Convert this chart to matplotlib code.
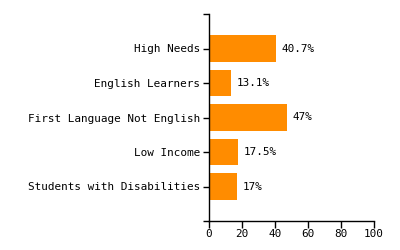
import matplotlib
matplotlib.use("Agg")
import matplotlib.pyplot as plt
import numpy as np

categories = ['High Needs', 'English Learners', 'First Language Not English', 'Low Income', 'Students with Disabilities']
values = [40.7, 13.1, 47, 17.5, 17]
labels = ['40.7%', '13.1%', '47%', '17.5%', '17%']

plt.rcParams['font.family'] = ['DejaVu Sans Mono']
plt.rcParams['font.size'] = 7.9

fig = plt.figure(figsize=(4, 2.5), dpi=100)
ax = fig.add_axes([209 / 400, 1 - 221 / 250, 165 / 400, 207 / 250])

y = np.arange(len(categories))[::-1]  # top to bottom
bars = ax.barh(y, values, height=0.78, color='#ff8c00')
for b, lab in zip(bars, labels):
    ax.text(b.get_width() + 3.5, b.get_y() + b.get_height() / 2, lab,
            va='center', ha='left')

ax.set_xlim(0, 100)
ax.set_ylim(-1, 5)
ax.set_yticks(y)
ax.set_yticklabels(categories)
ax.set_yticks([-1, 5], minor=True)
ax.set_xticks(np.arange(0, 101, 20))
ax.tick_params(axis='y', which='both', length=4, width=1, pad=2.5)
ax.tick_params(axis='x', length=5, width=1, pad=1)

for s in ['top', 'right']:
    ax.spines[s].set_visible(False)
for s in ['left', 'bottom']:
    ax.spines[s].set_linewidth(1)

plt.savefig('out.png', dpi=100)
